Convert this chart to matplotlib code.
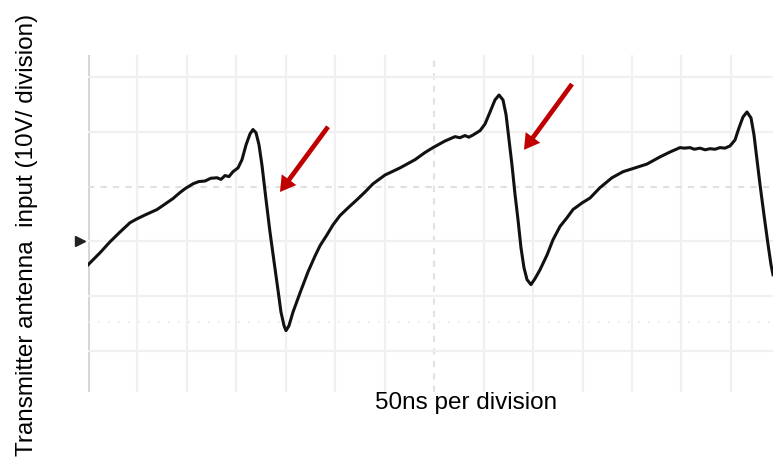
import matplotlib
matplotlib.use("Agg")
from matplotlib import pyplot
import numpy

time_ns = numpy.array([
    0, 12.1, 22.2, 32.4, 42.5, 49.5, 57.6, 69.8, 77.9, 85.9, 93.0, 98.1,
    106.2, 112.0, 118.3, 124.0, 130.4, 134.5, 138.5, 142.5, 146.6, 151.7,
    155.7, 159.8, 163.8, 166.8, 169.9, 172.9, 175.9, 180.0, 184.0, 188.1,
    192.1, 195.1, 198.2, 200.2, 203.2, 207.3, 214.4, 222.4, 229.5, 234.6,
    241.7, 247.7, 254.8, 262.9, 272.0, 280.1, 288.2, 300.3, 315.5, 330.7,
    340.7, 348.8, 360.9, 366.0, 371.1, 376.0, 381.2, 385.0, 389.3, 396.4,
    401.4, 406.5, 411.5, 415.6, 419.6, 422.7, 425.7, 428.7, 431.8, 434.8,
    437.8, 440.8, 443.9, 447.9, 452.0, 457.0, 464.1, 470.2, 477.2, 484.3,
    490.4, 499.5, 507.6, 517.7, 529.8, 540.9, 553.1, 565.2, 578.3, 588.5,
    598.6, 603.0, 608.7, 613.0, 618.8, 624.0, 628.9, 634.0, 639.0, 644.0,
    649.1, 654.2, 658.2, 662.3, 666.3, 670.4, 673.4, 676.4, 679.5, 683.5,
    687.6, 690.6, 692.6])
volts = numpy.array([
    -4.3, -2.1, -0.1, 1.7, 3.4, 4.1, 4.8, 5.8, 6.8, 7.8, 8.9, 9.6,
    10.5, 10.9, 11.0, 11.5, 11.6, 11.3, 12.0, 11.8, 12.7, 13.4,
    14.9, 17.6, 19.6, 20.4, 19.8, 17.6, 13.9, 7.6, 1.7, -3.7,
    -8.9, -12.9, -15.4, -16.3, -15.4, -12.9, -9.4, -5.6, -2.7, -0.8,
    1.2, 3.0, 4.7, 6.1, 7.6, 9.0, 10.5, 12.1, 13.4, 14.9,
    16.2, 17.1, 18.3, 18.7, 19.1, 18.9, 19.3, 19.0, 19.4, 20.2,
    21.4, 23.6, 25.8, 26.7, 25.8, 23.1, 18.5, 13.9, 8.5, 3.9,
    -1.2, -4.8, -7.0, -7.9, -6.8, -5.2, -2.5, 0.3, 2.7, 4.3,
    5.8, 7.0, 7.9, 9.8, 11.6, 12.7, 13.4, 14.1, 15.4, 16.3,
    17.1, 17.0, 17.1, 16.8, 17.0, 16.7, 16.9, 16.8, 17.1, 17.0,
    17.4, 18.5, 20.7, 22.7, 23.6, 22.5, 19.4, 14.9, 10.3, 4.8,
    -0.6, -4.3, -6.1])

# сетка: 50 нс и 10 В на деление
x_grid = numpy.arange(0, 700, 50)
y_grid = numpy.array([30, 20, 10, 0, -10, -20])

# стрелки (хвост -> острие)
arrow_tail = [(242.7, 20.9), (489.4, 28.7)]
arrow_tip = [(194.1, 9.0), (440.8, 16.7)]

pyplot.rcParams['font.family'] = ['Liberation Sans', 'DejaVu Sans']

fig = pyplot.figure(figsize=(7.73, 4.63), dpi=100)
ax = fig.add_axes([88 / 773, 1 - 392 / 463, 685 / 773, 337 / 463])
ax.set_xlim(0, 692.6)
ax.set_ylim(-27.5, 34.0)
ax.axis('off')

# сетка
for x in x_grid:
    if x == 0:
        ax.axvline(x, color='#d6d6d6', lw=2.2, zorder=1)
    elif x == 350:
        ax.axvline(x, color='#e2e2e2', lw=1.5, ls=(0, (3, 3)), zorder=1)
    else:
        ax.axvline(x, color='#f0f0f0', lw=1.6, zorder=1)
for y in y_grid:
    if y == 10:
        ax.axhline(y, color='#e0e0e0', lw=1.5, ls=(0, (3, 3)), zorder=1)
    else:
        ax.axhline(y, color='#f0f0f0', lw=1.6, zorder=1)
ax.axhline(-14.7, color='#e6e6e6', lw=1.2, ls=(0, (1, 5)), zorder=1)

# сигнал
ax.plot(time_ns, volts, color='#111111', lw=2.2, zorder=3)

# маркер уровня земли
ax.plot([-8], [0], marker='>', markersize=7, color='#222222', clip_on=False)

# красные стрелки
for tail, tip in zip(arrow_tail, arrow_tip):
    ax.annotate('', xy=tip, xytext=tail,
                arrowprops=dict(facecolor='#c00000', edgecolor='none',
                                width=3.4, headwidth=13, headlength=11, shrink=0),
                zorder=4)

fig.text(0.035, 0.492, 'Transmitter antenna  input (10V/ division)',
         rotation=90, ha='center', va='center', fontsize=17.5)
fig.text(0.603, 0.13, '50ns per division', ha='center', va='center', fontsize=17.5)

fig.savefig('out.png')
